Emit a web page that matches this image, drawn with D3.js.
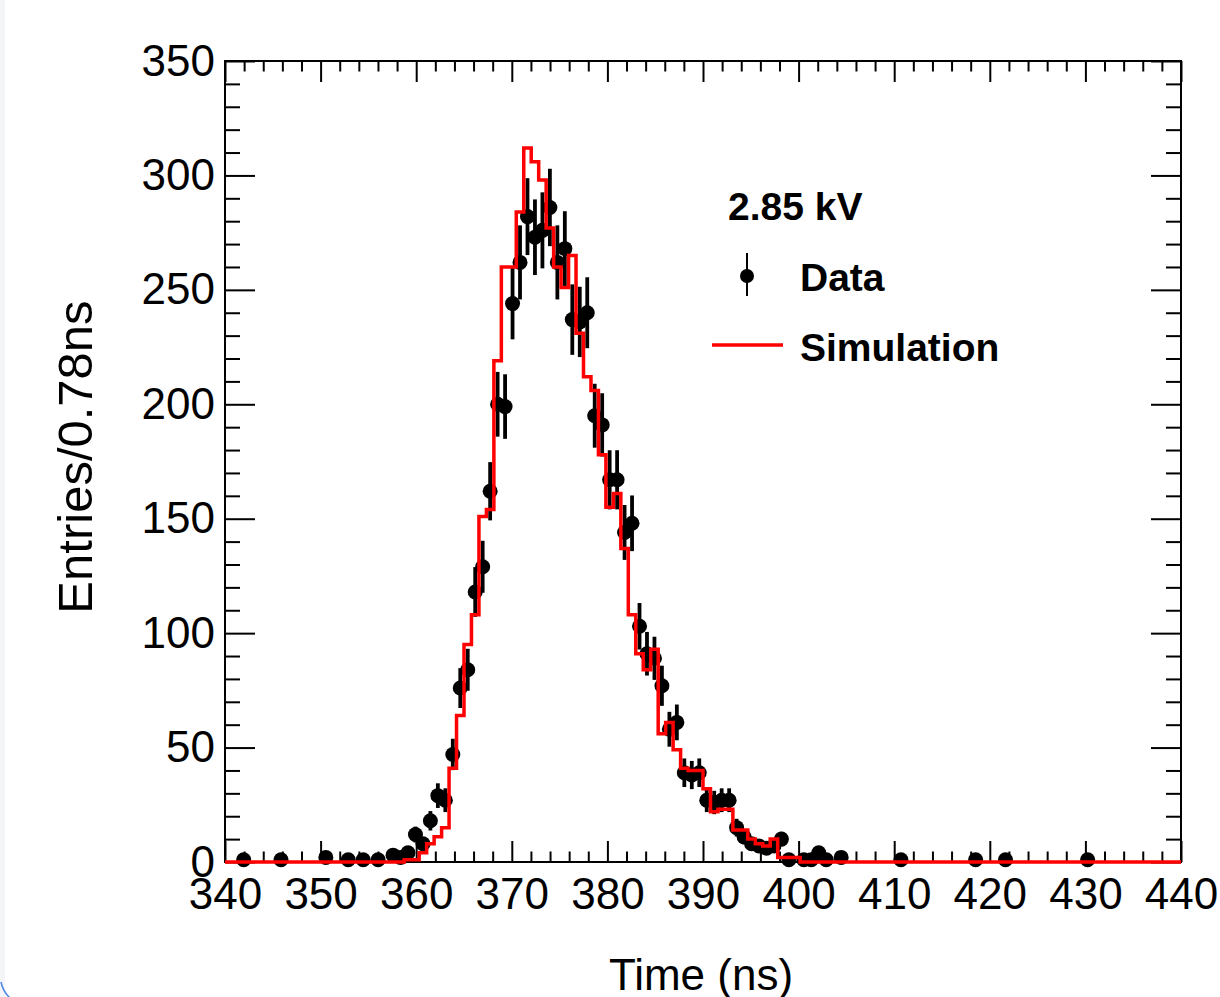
<!DOCTYPE html>
<html>
<head>
<meta charset="utf-8">
<script src="https://cdn.jsdelivr.net/npm/d3@7"></script>
<style>
  html, body { margin: 0; padding: 0; background: #ffffff; }
  svg { display: block; font-family: "Liberation Sans", Arial, Helvetica, sans-serif; }
</style>
</head>
<body>
<svg id="chart" width="1220" height="997"></svg>
<script>
// binning: 128 bins of 0.78125 ns between 340 and 440 ns
const timeRange = [340, 440];
const binCount = 128;
const countRange = [0, 350];

const xMajorTicks = [340, 350, 360, 370, 380, 390, 400, 410, 420, 430, 440];
const yMajorTicks = [0, 50, 100, 150, 200, 250, 300, 350];

// measured data: bin index -> entries
const dataBins = [
  2, 7, 13, 16, 18, 20, 22, 23,
  24, 25, 26, 27, 28, 29, 30, 31, 32, 33, 34, 35, 36, 37, 38, 39, 40, 41, 42, 43,
  44, 45, 46, 47, 48, 49, 50, 51, 52, 53, 54, 55, 56, 57, 58, 59, 60, 61, 62, 63,
  64, 65, 66, 67, 68, 69, 70, 71, 72, 73, 74, 75,
  77, 78, 79, 80, 82, 90, 100, 104, 115,
];
const dataCounts = [
  1, 1, 2, 1, 1, 1, 3, 2,
  4, 12, 8, 18, 29, 27, 47, 76, 84, 118, 129, 162, 200, 199, 244, 262, 282, 273, 276, 286,
  262, 268, 237, 236, 240, 195, 191, 167, 167, 144, 148, 103, 91, 89, 77, 58, 61, 39, 38, 39,
  27, 26, 27, 27, 15, 11, 8, 7, 6, 7, 10, 1,
  1, 1, 4, 1, 2, 1, 1, 1, 1,
];

// simulation histogram, non-empty bins start here
const simFirstBin = 24;
const simCounts = [
  1, 1, 4, 8, 11, 15, 41, 64, 95, 108, 151, 154, 219, 260, 260, 284, 312, 306,
  298, 277, 260, 251, 265, 231, 212, 206, 178, 155, 161, 137, 108, 91, 84, 93,
  56, 61, 49, 41, 40, 40, 32, 22, 23, 23, 14, 14, 10, 8, 7, 10, 2, 2, 2,
];

const svg = d3.select("#chart");
const frame = { left: 225, right: 1181, top: 61, bottom: 862 };

const x = d3.scaleLinear().domain(timeRange).range([frame.left, frame.right]);
const y = d3.scaleLinear().domain(countRange).range([frame.bottom, frame.top]);
const binWidth = (timeRange[1] - timeRange[0]) / binCount;
const binEdge = (i) => timeRange[0] + i * binWidth;

// screenshot edge leftovers
svg.append("rect").attr("x", 0).attr("y", 0).attr("width", 5).attr("height", 997).attr("fill", "#f4f5f7");
svg
  .append("path")
  .attr("d", "M1,982 Q3,992 11,999")
  .attr("fill", "none")
  .attr("stroke", "#4d86e8")
  .attr("stroke-width", 1.5);

const minorX = d3.range(timeRange[0], timeRange[1] + 0.1, 2).filter((v) => v % 10 !== 0);
const minorY = d3.range(countRange[0], countRange[1] + 0.1, 10).filter((v) => v % 50 !== 0);

function styleAxis(g) {
  g.select(".domain").remove();
  g.selectAll("line").attr("stroke", "#000").attr("stroke-width", 2);
  g.attr("font-size", 44).attr("font-family", null);
  g.selectAll("text").attr("fill", "#000");
}

// bottom axis with labels
svg
  .append("g")
  .attr("transform", `translate(0,${frame.bottom})`)
  .call(d3.axisBottom(x).tickValues(xMajorTicks).tickSize(-21).tickFormat(d3.format("d")))
  .call(styleAxis)
  .call((g) => g.selectAll("text").attr("y", 47).attr("dy", null));
svg
  .append("g")
  .attr("transform", `translate(0,${frame.bottom})`)
  .call(d3.axisBottom(x).tickValues(minorX).tickSize(-10.5).tickFormat(""))
  .call(styleAxis);

// top axis (ticks only)
svg
  .append("g")
  .attr("transform", `translate(0,${frame.top})`)
  .call(d3.axisTop(x).tickValues(xMajorTicks).tickSize(-21).tickFormat(""))
  .call(styleAxis);
svg
  .append("g")
  .attr("transform", `translate(0,${frame.top})`)
  .call(d3.axisTop(x).tickValues(minorX).tickSize(-10.5).tickFormat(""))
  .call(styleAxis);

// left axis with labels
svg
  .append("g")
  .attr("transform", `translate(${frame.left},0)`)
  .call(d3.axisLeft(y).tickValues(yMajorTicks).tickSize(-30).tickPadding(10).tickFormat(d3.format("d")))
  .call(styleAxis);
svg
  .append("g")
  .attr("transform", `translate(${frame.left},0)`)
  .call(d3.axisLeft(y).tickValues(minorY).tickSize(-15).tickFormat(""))
  .call(styleAxis);

// right axis (ticks only)
svg
  .append("g")
  .attr("transform", `translate(${frame.right},0)`)
  .call(d3.axisRight(y).tickValues(yMajorTicks).tickSize(-30).tickFormat(""))
  .call(styleAxis);
svg
  .append("g")
  .attr("transform", `translate(${frame.right},0)`)
  .call(d3.axisRight(y).tickValues(minorY).tickSize(-15).tickFormat(""))
  .call(styleAxis);

svg
  .append("rect")
  .attr("x", frame.left)
  .attr("y", frame.top)
  .attr("width", frame.right - frame.left)
  .attr("height", frame.bottom - frame.top)
  .attr("fill", "none")
  .attr("stroke", "#000")
  .attr("stroke-width", 2);

// axis titles
svg
  .append("text")
  .attr("transform", `translate(92,457) rotate(-90)`)
  .attr("text-anchor", "middle")
  .attr("font-size", 49)
  .attr("fill", "#000")
  .text("Entries/0.78ns");

svg
  .append("text")
  .attr("x", 701)
  .attr("y", 990)
  .attr("text-anchor", "middle")
  .attr("font-size", 44)
  .attr("fill", "#000")
  .text("Time (ns)");

// data points with poisson error bars
const points = dataBins.map((bin, i) => ({
  t: binEdge(bin) + binWidth / 2,
  n: dataCounts[i],
}));

const dataG = svg.append("g");
dataG
  .selectAll("line")
  .data(points)
  .join("line")
  .attr("x1", (d) => x(d.t))
  .attr("x2", (d) => x(d.t))
  .attr("y1", (d) => y(Math.max(0, d.n - Math.sqrt(d.n))))
  .attr("y2", (d) => y(d.n + Math.sqrt(d.n)))
  .attr("stroke", "#000")
  .attr("stroke-width", 3.8);
dataG
  .selectAll("circle")
  .data(points)
  .join("circle")
  .attr("cx", (d) => x(d.t))
  .attr("cy", (d) => y(d.n))
  .attr("r", 7.5)
  .attr("fill", "#000");

// simulation step histogram over all bins
const simAll = d3.range(binCount).map((i) => {
  const k = i - simFirstBin;
  return k >= 0 && k < simCounts.length ? simCounts[k] : 0;
});
const stepPoints = simAll.map((c, i) => [binEdge(i), c]);
stepPoints.push([binEdge(binCount), simAll[binCount - 1]]);

const stepLine = d3
  .line()
  .x((d) => x(d[0]))
  .y((d) => y(d[1]))
  .curve(d3.curveStepAfter);

svg
  .append("path")
  .attr("d", stepLine(stepPoints))
  .attr("fill", "none")
  .attr("stroke", "#ff0000")
  .attr("stroke-width", 3.5)
  .attr("stroke-linejoin", "miter");

// legend
const legend = svg.append("g").attr("font-weight", "bold").attr("font-size", 39).attr("fill", "#000");
legend.append("text").attr("x", 728).attr("y", 220).text("2.85 kV");

legend
  .append("line")
  .attr("x1", 747)
  .attr("x2", 747)
  .attr("y1", 253)
  .attr("y2", 296)
  .attr("stroke", "#000")
  .attr("stroke-width", 2);
legend.append("circle").attr("cx", 747).attr("cy", 276).attr("r", 7).attr("fill", "#000");
legend.append("text").attr("x", 800).attr("y", 291).text("Data");

legend
  .append("line")
  .attr("x1", 712)
  .attr("x2", 783)
  .attr("y1", 345)
  .attr("y2", 345)
  .attr("stroke", "#ff0000")
  .attr("stroke-width", 3.5);
legend.append("text").attr("x", 800).attr("y", 361).text("Simulation");
</script>
</body>
</html>
